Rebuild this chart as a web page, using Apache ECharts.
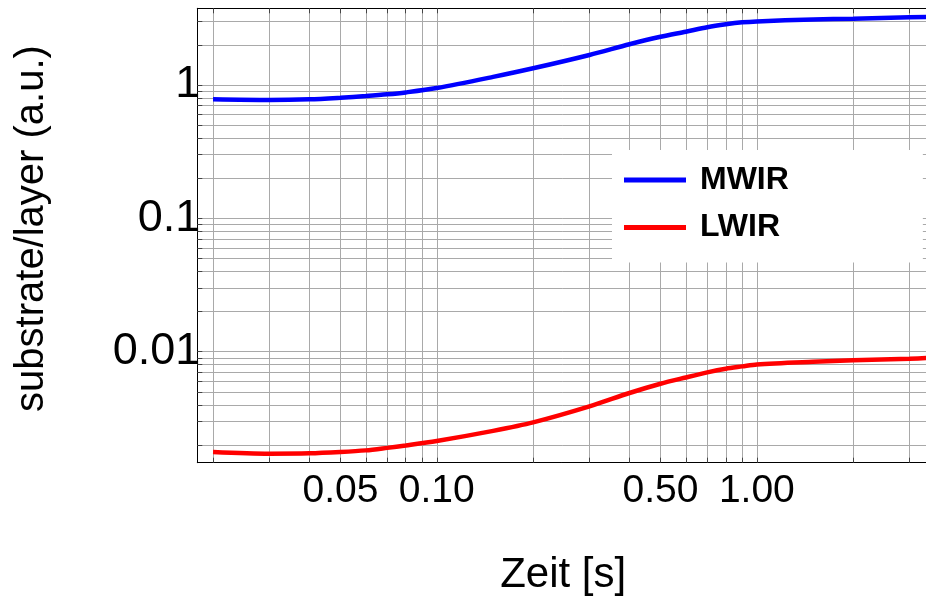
<!DOCTYPE html>
<html>
<head>
<meta charset="utf-8">
<script src="https://cdn.jsdelivr.net/npm/echarts@6/dist/echarts.min.js"></script>
<style>
  html, body { margin: 0; padding: 0; background: #ffffff; }
  #chart { width: 926px; height: 600px; }
</style>
</head>
<body>
<div id="chart"></div>
<script>
// Time samples (s) and the two ratio curves
const time = [0.02, 0.03, 0.04, 0.05, 0.06, 0.07, 0.08, 0.1, 0.15, 0.2, 0.3, 0.4, 0.5, 0.6, 0.7, 0.8, 0.9, 1.0, 1.5, 2.0, 3.0, 3.45];
const mwir = [0.781, 0.772, 0.781, 0.803, 0.827, 0.851, 0.88, 0.949, 1.15, 1.334, 1.679, 2.02, 2.30, 2.51, 2.71, 2.85, 2.95, 3.00, 3.10, 3.14, 3.22, 3.23];
const lwir = [0.00177, 0.00172, 0.00173, 0.00177, 0.00182, 0.0019, 0.00198, 0.00214, 0.00255, 0.00295, 0.00389, 0.0049, 0.00575, 0.00641, 0.007, 0.00746, 0.00776, 0.00803, 0.0084, 0.00861, 0.00886, 0.00897];

// Grid lines and tick labels
const xGrid = [0.02, 0.03, 0.04, 0.05, 0.06, 0.07, 0.08, 0.09, 0.1, 0.2, 0.3, 0.4, 0.5, 0.6, 0.7, 0.8, 0.9, 1, 2, 3];
const xTickValues = [0.05, 0.1, 0.5, 1];
const xTickLabels = ['0.05', '0.10', '0.50', '1.00'];
const yGrid = [0.002, 0.003, 0.004, 0.005, 0.006, 0.007, 0.008, 0.009,
               0.01, 0.02, 0.03, 0.04, 0.05, 0.06, 0.07, 0.08, 0.09,
               0.1, 0.2, 0.3, 0.4, 0.5, 0.6, 0.7, 0.8, 0.9, 1, 2, 3];
const yTickValues = [0.01, 0.1, 1];
const yTickLabels = ['0.01', '0.1', '1'];

const seriesNames = ['MWIR', 'LWIR'];
const seriesColors = ['#0000ff', '#ff0000'];

function lookupLabel(values, labels, v) {
  for (let i = 0; i < values.length; i++) {
    if (Math.abs(values[i] - v) <= values[i] * 1e-6) return labels[i];
  }
  return '';
}

const FONT = "'Liberation Sans', Arial, sans-serif";
const X_MIN = 0.01786, X_MAX = 3.45;
const Y_MIN = 0.001471, Y_MAX = 3.76;
const GRID_COLOR = '#a9a9a9';

const chart = echarts.init(document.getElementById('chart'), null, { renderer: 'canvas' });

chart.setOption({
  animation: false,
  backgroundColor: '#ffffff',
  textStyle: { fontFamily: FONT },
  grid: {
    left: 197.3, top: 8.3, width: 731.7, height: 454.4,
    containLabel: false, outerBoundsMode: 'none'
  },
  legend: {
    orient: 'vertical',
    left: 612,
    top: 150,
    padding: [14, 134, 19, 12],
    backgroundColor: '#ffffff',
    icon: 'rect',
    itemWidth: 62,
    itemHeight: 5,
    itemGap: 15.4,
    textStyle: { fontFamily: FONT, fontSize: 32, fontWeight: 'bold', color: '#000', lineHeight: 32, padding: [0, 0, 0, 9] },
    data: seriesNames
  },
  xAxis: [
    {
      type: 'log', position: 'bottom', min: X_MIN, max: X_MAX,
      name: 'Zeit [s]', nameLocation: 'middle', nameGap: 92,
      nameTextStyle: { fontFamily: FONT, fontSize: 42, color: '#000' },
      axisLine: { show: true, lineStyle: { color: '#000', width: 1 } },
      axisTick: { show: true, inside: true, length: 5, customValues: xGrid, lineStyle: { color: '#444' } },
      axisLabel: {
        show: true, customValues: xTickValues, margin: 9,
        fontFamily: FONT, fontSize: 39, color: '#000',
        formatter: v => lookupLabel(xTickValues, xTickLabels, v)
      },
      splitLine: { show: true, lineStyle: { color: GRID_COLOR, width: 1 } }
    },
    {
      type: 'log', position: 'top', min: X_MIN, max: X_MAX,
      axisLine: { show: true, lineStyle: { color: '#000', width: 1 } },
      axisTick: { show: true, inside: true, length: 5, customValues: xGrid, lineStyle: { color: '#444' } },
      axisLabel: { show: false },
      splitLine: { show: false }
    }
  ],
  yAxis: [
    {
      type: 'log', position: 'left', min: Y_MIN, max: Y_MAX,
      name: 'substrate/layer (a.u.)', nameLocation: 'middle', nameGap: 145, nameRotate: 90,
      nameTextStyle: { fontFamily: FONT, fontSize: 40, color: '#000', padding: [0, 0, 0, 14] },
      axisLine: { show: true, lineStyle: { color: '#000', width: 1 } },
      axisTick: { show: true, inside: true, length: 5, customValues: yGrid, lineStyle: { color: '#444' } },
      axisLabel: {
        show: true, customValues: yTickValues, margin: -3,
        fontFamily: FONT, fontSize: 45, color: '#000',
        formatter: v => lookupLabel(yTickValues, yTickLabels, v)
      },
      splitLine: { show: true, lineStyle: { color: GRID_COLOR, width: 1 } }
    }
  ],
  series: [
    {
      name: seriesNames[0], type: 'line', xAxisIndex: 0, yAxisIndex: 0,
      data: time.map((t, i) => [t, mwir[i]]),
      showSymbol: false, symbol: 'none', smooth: 0.3, z: 3,
      color: seriesColors[0],
      lineStyle: { color: seriesColors[0], width: 4.5 }
    },
    {
      name: seriesNames[1], type: 'line', xAxisIndex: 0, yAxisIndex: 0,
      data: time.map((t, i) => [t, lwir[i]]),
      showSymbol: false, symbol: 'none', smooth: 0.3, z: 3,
      color: seriesColors[1],
      lineStyle: { color: seriesColors[1], width: 4.5 }
    }
  ]
});
</script>
</body>
</html>
